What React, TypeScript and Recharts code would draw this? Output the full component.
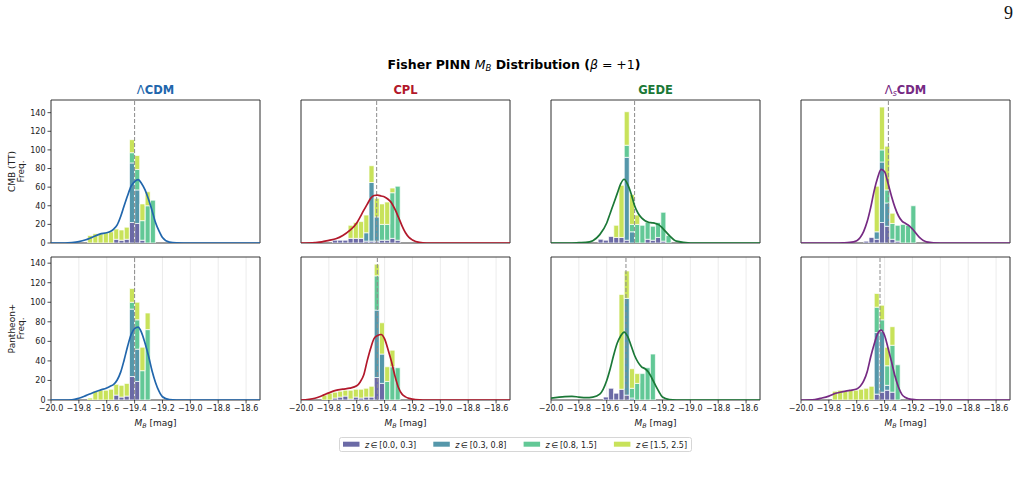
import React from 'react';
import {
  ComposedChart,
  Bar,
  Line,
  XAxis,
  YAxis,
  CartesianGrid,
  ReferenceLine,
  ReferenceArea,
} from 'recharts';

// ---------- axes / categories ----------
const N_BINS = 40; // histogram bins over [-20.0, -18.5]
const X_MIN = -20.0;
const X_MAX = -18.5;
const X_TICKS = [-20.0, -19.8, -19.6, -19.4, -19.2, -19.0, -18.8, -18.6];
const Y_TICKS = [0, 20, 40, 60, 80, 100, 120, 140];
const Y_MAX = [153.6, 146.3];
const DATASETS = ['CMB (TT)', 'Pantheon+'];
const MODEL_COLORS = ['#2166ac', '#b2182b', '#1b7837', '#762a83'];
const Z_KEYS = ['z0', 'z1', 'z2', 'z3'];
const Z_LABELS = ['[0.0, 0.3]', '[0.3, 0.8]', '[0.8, 1.5]', '[1.5, 2.5]'];
const Z_COLORS = ['#6b6aa6', '#5597aa', '#62c896', '#c8e25a'];

// ---------- histogram counts: [bin, z0, z1, z2, z3] ----------
const CMB_LCDM_BINS = [
  [7, 0, 0, 0, 8], [8, 0, 0, 0, 10], [9, 0, 0, 0, 10], [10, 0, 0, 0, 11], [11, 0, 0, 0, 12],
  [12, 4, 0, 0, 11], [13, 3, 0, 0, 11], [14, 4, 0, 0, 13], [15, 22, 64, 11, 14],
  [16, 21, 36, 22, 15], [17, 3, 0, 21, 18], [18, 0, 0, 40, 15], [19, 0, 0, 46, 0],
];
const CMB_CPL_BINS = [
  [6, 3, 0, 0, 0], [7, 3, 0, 0, 0], [8, 3, 0, 0, 0], [9, 5, 0, 0, 14], [10, 5, 0, 0, 17],
  [11, 5, 0, 0, 18], [12, 2, 9, 0, 19], [13, 2, 63, 0, 18], [14, 2, 26, 0, 20],
  [15, 3, 0, 17, 22], [16, 3, 0, 17, 24], [17, 5, 0, 49, 5], [18, 3, 0, 58, 0],
];
const CMB_GEDE_BINS = [
  [9, 4, 0, 0, 0], [10, 3, 0, 0, 0], [11, 7, 0, 0, 0], [12, 6, 0, 0, 13], [13, 6, 0, 0, 56],
  [14, 3, 89, 13, 36], [15, 0, 12, 8, 32], [16, 0, 0, 20, 10], [17, 0, 0, 19, 0],
  [18, 4, 0, 18, 0], [19, 3, 0, 15, 0], [20, 6, 0, 16, 0], [21, 2, 0, 31, 0], [22, 0, 0, 8, 0],
];
const CMB_LSCDM_BINS = [
  [12, 2, 0, 0, 0], [13, 6, 0, 0, 0], [14, 4, 8, 0, 49], [15, 22, 65, 13, 46],
  [16, 18, 25, 14, 47], [17, 4, 0, 17, 11], [18, 2, 0, 17, 0], [19, 0, 0, 20, 0],
  [20, 0, 0, 19, 0], [21, 0, 0, 40, 0],
];
const PAN_LCDM_BINS = [
  [7, 0, 0, 0, 2], [8, 0, 0, 0, 9], [9, 0, 0, 0, 10], [10, 0, 0, 0, 10], [11, 0, 0, 0, 11],
  [12, 5, 0, 0, 11], [13, 3, 0, 0, 12], [14, 4, 0, 0, 13], [15, 24, 69, 7, 14],
  [16, 19, 33, 30, 18], [17, 0, 0, 30, 24], [18, 0, 0, 72, 17],
];
const PAN_CPL_BINS = [
  [4, 0, 0, 0, 5], [5, 0, 0, 0, 7], [6, 2, 0, 0, 6], [7, 3, 0, 0, 6], [8, 4, 0, 0, 6],
  [9, 1, 0, 0, 9], [10, 3, 0, 0, 8], [11, 2, 0, 0, 9], [12, 3, 0, 0, 9], [13, 3, 0, 0, 11],
  [14, 23, 69, 35, 12], [15, 17, 30, 0, 32], [16, 0, 0, 19, 15], [17, 0, 0, 34, 17],
  [18, 0, 0, 33, 0],
];
const PAN_GEDE_BINS = [
  [10, 3, 0, 0, 0], [11, 12, 0, 0, 0], [12, 7, 0, 0, 0], [13, 11, 0, 0, 97],
  [14, 5, 99, 0, 28], [15, 0, 2, 10, 20], [16, 0, 0, 17, 10], [17, 0, 0, 27, 0],
  [18, 0, 0, 33, 0], [19, 0, 0, 47, 0],
];
const PAN_LSCDM_BINS = [
  [6, 0, 0, 0, 9], [7, 0, 0, 0, 10], [8, 0, 0, 0, 9], [9, 0, 0, 0, 10], [10, 0, 0, 0, 10],
  [11, 0, 0, 0, 11], [12, 0, 0, 0, 12], [13, 0, 0, 0, 14], [14, 6, 63, 26, 14],
  [15, 8, 62, 12, 15], [16, 10, 5, 20, 19], [17, 8, 0, 48, 19], [18, 0, 0, 36, 0],
];

// ---------- KDE curves (sampled at KDE_X) ----------
const KDE_X = [
  -20.0, -19.9, -19.85, -19.8, -19.75, -19.7, -19.65, -19.6, -19.575, -19.55, -19.525, -19.5,
  -19.475, -19.45, -19.425, -19.4, -19.375, -19.35, -19.325, -19.3, -19.275, -19.25, -19.225,
  -19.2, -19.15, -19.1, -19.0, -18.5,
];
const CMB_LCDM_KDE = [0, 0, 0.5, 1.5, 3.5, 6.5, 9.5, 11, 12.3, 15, 19.5, 28.5, 40, 51, 61, 66, 68, 64, 57, 47, 35, 22, 13, 6, 1, 0.2, 0, 0];
const CMB_CPL_KDE = [0, 0.5, 1.2, 2.9, 4.5, 8, 13.5, 21.5, 28, 35, 41.5, 48, 51, 51.5, 50.5, 49.5, 47, 43, 36, 27.5, 18.5, 11, 6, 3.2, 0.6, 0, 0, 0];
const CMB_GEDE_KDE = [0, 0, 0, 0.3, 0.6, 2.5, 9, 21.5, 32, 42.5, 53, 63.5, 68.5, 63, 53, 40, 32, 27, 24, 22.3, 21.7, 21, 19.5, 16, 8, 2, 0, 0];
const CMB_LSCDM_KDE = [0, 0, 0, 0, 0, 0.2, 0.6, 2.5, 6, 12.5, 23, 38, 56, 70, 79, 76.5, 64, 50, 38, 29, 23.5, 21, 18.7, 15, 6, 1.3, 0, 0];
const PAN_LCDM_KDE = [0, 0, 0.2, 1.8, 4.5, 7.5, 10, 12.3, 14, 16, 20.5, 28.5, 41, 55, 67, 73, 74.5, 69, 58, 45, 30, 18, 9, 3.3, 0.4, 0, 0, 0];
const PAN_CPL_KDE = [0, 1.8, 4.3, 7.3, 9.8, 11.1, 12.1, 14.5, 18.5, 25.5, 40, 53, 63, 66, 67, 62.5, 51.5, 39, 24.2, 12.5, 6, 3.2, 1.7, 0.9, 0.2, 0, 0, 0];
const PAN_GEDE_KDE = [2, 3.5, 3.7, 3, 2.4, 3, 6, 20, 32, 46, 58, 65.5, 69.5, 65, 55.5, 45.5, 38.5, 34, 32, 28.5, 22, 15, 8.5, 3, 0.5, 0, 0, 0];
const PAN_LSCDM_KDE = [0, 0.5, 2, 4, 6.9, 8.5, 9.8, 11.2, 14, 19.5, 29, 44, 57, 68, 71.5, 66, 53, 39, 24.2, 13, 5.5, 2.5, 1.2, 0.6, 0, 0, 0, 0];

// ---------- dashed lines (mean M_B) ----------
const CMB_MEANS = [-19.4, -19.457, -19.4, -19.373];
const PAN_MEANS = [-19.4, -19.452, -19.462, -19.433];

const BINS = [
  [CMB_LCDM_BINS, CMB_CPL_BINS, CMB_GEDE_BINS, CMB_LSCDM_BINS],
  [PAN_LCDM_BINS, PAN_CPL_BINS, PAN_GEDE_BINS, PAN_LSCDM_BINS],
];
const KDES = [
  [CMB_LCDM_KDE, CMB_CPL_KDE, CMB_GEDE_KDE, CMB_LSCDM_KDE],
  [PAN_LCDM_KDE, PAN_CPL_KDE, PAN_GEDE_KDE, PAN_LSCDM_KDE],
];
const MEANS = [CMB_MEANS, PAN_MEANS];

// ---------- layout ----------
const FONT = 'DejaVu Sans';
const PW = 209;
const PH = 143;
const YW = 40;
const MT = 4;
const MR = 4;
const XH = 22;
const PLOT_LEFT = [51, 301, 551, 801];
const PLOT_TOP = [100, 257];

const fmtX = (v: number) => (v < 0 ? '\u2212' : '') + Math.abs(v).toFixed(1);
const TICK_STYLE = { fontSize: 8, fill: '#222', fontFamily: FONT };

function buildRows(counts: number[][]) {
  const rows = Array.from({ length: N_BINS }, (_, i) => ({ bin: i, z0: 0, z1: 0, z2: 0, z3: 0 }));
  counts.forEach(([b, a, c, d, e]) => {
    rows[b] = { bin: b, z0: a, z1: c, z2: d, z3: e };
  });
  return rows;
}

function Panel({ row, col }: { row: number; col: number }) {
  const rows = buildRows(BINS[row][col]);
  const kdeData = KDE_X.map((x, i) => ({ x, y: KDES[row][col][i] }));
  const yMax = Y_MAX[row];
  const showX = row === 1;
  const showY = col === 0;
  return (
    <div style={{ position: 'absolute', left: PLOT_LEFT[col] - YW, top: PLOT_TOP[row] - MT }}>
      <ComposedChart
        width={YW + PW + MR}
        height={MT + PH + XH}
        data={rows}
        margin={{ top: MT, right: MR, bottom: 0, left: 0 }}
        barCategoryGap="2%"
        barGap={0}
      >
        <CartesianGrid xAxisId="k" yAxisId="main" horizontal={false} stroke="#e6e6e6" strokeWidth={0.8} />
        <XAxis
          xAxisId="k"
          dataKey="x"
          type="number"
          domain={[X_MIN, X_MAX]}
          ticks={X_TICKS}
          allowDataOverflow
          interval={0}
          height={XH}
          axisLine={false}
          tickSize={3.5}
          tickMargin={2}
          tickLine={{ stroke: '#222', strokeWidth: 0.8 }}
          tick={showX ? TICK_STYLE : false}
          tickFormatter={fmtX}
        />
        <XAxis xAxisId="bins" dataKey="bin" type="category" hide height={0} orientation="top" />
        <YAxis
          yAxisId="main"
          type="number"
          domain={[0, yMax]}
          ticks={Y_TICKS}
          allowDataOverflow
          interval={0}
          width={YW}
          axisLine={false}
          tickSize={3.5}
          tickMargin={2}
          tickLine={{ stroke: '#222', strokeWidth: 0.8 }}
          tick={showY ? TICK_STYLE : false}
        />
        <YAxis yAxisId="k" type="number" domain={[0, yMax]} allowDataOverflow hide width={0} orientation="right" />
        {Z_KEYS.map((k, i) => (
          <Bar
            key={k}
            xAxisId="bins"
            yAxisId="main"
            dataKey={k}
            stackId="z"
            fill={Z_COLORS[i]}
            stroke="#ffffff"
            strokeWidth={0.7}
            isAnimationActive={false}
          />
        ))}
        <ReferenceLine
          xAxisId="k"
          yAxisId="k"
          x={MEANS[row][col]}
          stroke="#8c8c8c"
          strokeDasharray="4 2"
          strokeWidth={1}
        />
        <Line
          xAxisId="k"
          yAxisId="k"
          data={kdeData}
          dataKey="y"
          type="monotone"
          stroke={MODEL_COLORS[col]}
          strokeWidth={1.7}
          dot={false}
          activeDot={false}
          isAnimationActive={false}
        />
        <ReferenceArea
          xAxisId="k"
          yAxisId="k"
          x1={X_MIN}
          x2={X_MAX}
          y1={0}
          y2={yMax}
          fill="none"
          stroke="#222"
          strokeWidth={0.9}
        />
      </ComposedChart>
    </div>
  );
}

function ModelTitle({ col }: { col: number }) {
  const x = PLOT_LEFT[col] + PW / 2;
  const color = MODEL_COLORS[col];
  const common = { x, y: 94, textAnchor: 'middle' as const, fill: color, fontSize: 11.5, fontFamily: FONT };
  if (col === 0)
    return (
      <text {...common}>
        <tspan>Λ</tspan>
        <tspan fontWeight="bold">CDM</tspan>
      </text>
    );
  if (col === 3)
    return (
      <text {...common}>
        <tspan>Λ</tspan>
        <tspan fontStyle="italic" fontSize={8} dy={2}>s</tspan>
        <tspan fontWeight="bold" dy={-2}>CDM</tspan>
      </text>
    );
  return (
    <text {...common} fontWeight="bold">
      {col === 1 ? 'CPL' : 'GEDE'}
    </text>
  );
}

function Overlay() {
  return (
    <svg
      width={1022}
      height={486}
      style={{ position: 'absolute', left: 0, top: 0, pointerEvents: 'none' }}
    >
      <text x={1013} y={19} textAnchor="end" fontSize={18} fontFamily="Liberation Serif" fill="#111">
        9
      </text>
      <text x={514} y={69} textAnchor="middle" fontSize={12.5} fontFamily={FONT} fontWeight="bold" fill="#000">
        <tspan>Fisher PINN </tspan>
        <tspan fontStyle="italic" fontWeight="normal">M</tspan>
        <tspan fontStyle="italic" fontWeight="normal" fontSize={8.5} dy={2}>B</tspan>
        <tspan dy={-2}> Distribution (</tspan>
        <tspan fontStyle="italic" fontWeight="normal">β</tspan>
        <tspan fontWeight="normal">{' = +1'}</tspan>
        <tspan>)</tspan>
      </text>
      {[0, 1, 2, 3].map((c) => (
        <ModelTitle key={c} col={c} />
      ))}
      {DATASETS.map((d, r) => {
        const cy = PLOT_TOP[r] + PH / 2;
        return (
          <text
            key={d}
            transform={`translate(14.5, ${cy}) rotate(-90)`}
            textAnchor="middle"
            fontSize={9}
            fontFamily={FONT}
            fill="#222"
          >
            <tspan x={0} y={0}>{d}</tspan>
            <tspan x={0} y={9}>Freq.</tspan>
          </text>
        );
      })}
      {[0, 1, 2, 3].map((c) => (
        <text
          key={c}
          x={PLOT_LEFT[c] + PW / 2}
          y={426}
          textAnchor="middle"
          fontSize={9}
          fontFamily={FONT}
          fill="#222"
        >
          <tspan fontStyle="italic">M</tspan>
          <tspan fontStyle="italic" fontSize={6.3} dy={1.8}>B</tspan>
          <tspan dy={-1.8}> [mag]</tspan>
        </text>
      ))}
      <rect x={339.5} y={437.5} width={352} height={14} rx={2} fill="#fff" stroke="#cccccc" strokeWidth={0.8} />
      {Z_LABELS.map((lab, i) => {
        const x0 = 343 + 90.3 * i;
        return (
          <g key={lab}>
            <rect x={x0} y={441.7} width={16.5} height={5} fill={Z_COLORS[i]} />
            <text x={x0 + 22} y={447.8} fontSize={8} fontFamily={FONT} fill="#222">
              <tspan fontStyle="italic">z</tspan>
              <tspan>{'\u2009\u2208\u2009' + lab}</tspan>
            </text>
          </g>
        );
      })}
    </svg>
  );
}

export default function App() {
  return (
    <div
      style={{
        position: 'absolute',
        left: 0,
        top: 0,
        width: 1022,
        height: 486,
        background: '#fff',
        fontFamily: FONT,
        overflow: 'hidden',
      }}
    >
      {[0, 1].map((r) => [0, 1, 2, 3].map((c) => <Panel key={`${r}-${c}`} row={r} col={c} />))}
      <Overlay />
    </div>
  );
}
